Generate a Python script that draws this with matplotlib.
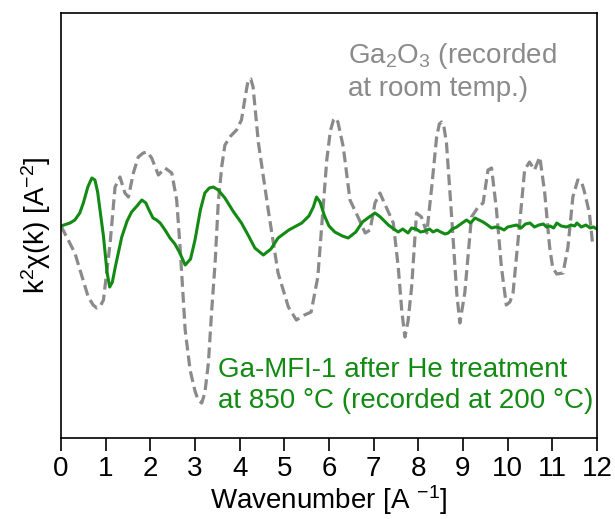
import matplotlib.pyplot as plt

plt.rcParams['font.family'] = 'Liberation Sans'
plt.rcParams['mathtext.fontset'] = 'custom'
plt.rcParams['mathtext.rm'] = 'Liberation Sans'
plt.rcParams['mathtext.it'] = 'Liberation Sans'

# Ga-MFI-1 after He treatment (green, solid)
k_mfi = [0, 0.2, 0.31, 0.42, 0.5, 0.6, 0.69, 0.76, 0.82, 0.95, 1.03, 1.09, 1.15, 1.22,
         1.36, 1.48, 1.58, 1.7, 1.81, 1.9, 1.97, 2.06, 2.14, 2.22, 2.33, 2.44, 2.55,
         2.65, 2.78, 2.9, 3.0, 3.12, 3.22, 3.32, 3.41, 3.52, 3.67, 3.85, 4.04, 4.2,
         4.34, 4.53, 4.7, 4.86, 5.1, 5.39, 5.55, 5.65, 5.72, 5.8, 5.9, 6.0, 6.13, 6.3,
         6.43, 6.6, 6.75, 6.9, 7.03, 7.15, 7.33, 7.45, 7.55, 7.65, 7.77,
         7.85, 7.95, 8.05, 8.15, 8.25, 8.33, 8.42, 8.5, 8.6, 8.67, 8.76, 8.86, 8.95,
         9.08, 9.17, 9.27, 9.36, 9.45, 9.55, 9.64, 9.73, 9.83, 9.92, 10.0, 10.1, 10.2,
         10.3, 10.4, 10.5, 10.6, 10.7, 10.8, 10.87, 10.95, 11.03, 11.1, 11.2, 11.32,
         11.42, 11.5, 11.55, 11.65, 11.75, 11.85, 11.92, 12.0]
chi_mfi = [0, 0.3, 0.6, 1.3, 2.3, 3.9, 4.8, 4.6, 3.4, -1.0, -4.6, -6.1, -5.6, -4.0,
           -1.1, 0.5, 1.4, 2.0, 2.6, 2.3, 1.6, 0.8, 0.6, 0.3, -0.4, -1.2, -1.8,
           -2.6, -3.9, -3.3, -1.4, 1.6, 3.3, 3.8, 3.9, 3.6, 2.8, 1.5, 0.3, -1.0,
           -2.2, -2.9, -2.3, -1.2, -0.4, 0.3, 1.0, 1.9, 2.9, 2.4, 1.0, 0.0, -0.6, -1.0,
           -1.2, -0.6, 0.4, 0.9, 1.3, 0.9, 0.1, -0.3, -0.6, -0.3, -0.7,
           -0.2, -0.3, -0.6, -0.5, -0.3, -0.6, -0.4, -0.6, -0.8, -0.7, -0.3, -0.1, 0.2,
           0.6, 0.3, 0.8, 0.6, 0.4, 0.1, -0.2, -0.1, -0.2, -0.4, -0.1, 0.0, 0.1,
           -0.2, 0.2, 0.3, -0.1, 0.1, 0.2, -0.1, 0.0, -0.2, 0.3, 0.0, -0.1,
           0.1, 0.0, 0.3, -0.1, 0.1, -0.2, -0.1, -0.3]

# Ga2O3 reference (gray, dashed)
k_ref = [0, 0.31, 0.61, 0.72, 0.8, 0.88, 0.95, 1.1, 1.21, 1.32, 1.43, 1.51, 1.62, 1.73,
         1.84, 1.93, 2.03, 2.18, 2.33, 2.48, 2.59, 2.67, 2.78, 2.89, 3.0, 3.07, 3.15,
         3.22, 3.3, 3.37, 3.45, 3.52, 3.6, 3.67, 3.8, 3.93, 4.04, 4.12, 4.19, 4.25,
         4.3, 4.42, 4.64, 4.86, 5.09, 5.27, 5.45, 5.6, 5.75, 5.82, 5.95, 6.03, 6.1,
         6.15, 6.2, 6.32, 6.47, 6.66, 6.81, 6.92, 7.03, 7.14, 7.29, 7.44, 7.55, 7.63,
         7.7, 7.77, 7.85, 7.96, 8.07, 8.19, 8.3, 8.41, 8.47, 8.52, 8.57, 8.63, 8.74,
         8.86, 8.93, 9.04, 9.19, 9.34, 9.45, 9.56, 9.64, 9.75, 9.86, 9.97, 10.05,
         10.12, 10.27, 10.38, 10.49, 10.6, 10.72, 10.83, 10.94, 11.01, 11.1, 11.24,
         11.35, 11.46, 11.57, 11.65, 11.72, 11.83, 11.9]
chi_ref = [0, -2.7, -7.1, -7.9, -8.2, -8.0, -7.4, -1.7, 3.9, 4.9, 3.3, 2.9, 5.3, 6.9,
           7.3, 7.4, 6.8, 5.1, 5.8, 5.3, 2.6, -2.4, -10.4, -14.4, -16.5, -17.4, -17.7,
           -16.7, -13.7, -8.7, -3.7, 2.3, 6.0, 8.1, 9.0, 9.6, 10.6, 12.8, 14.6, 14.7,
           13.9, 8.3, 1.6, -4.7, -8.1, -9.4, -8.9, -8.6, -5.1, -1.0, 6.6, 9.5, 10.6,
           10.8, 10.4, 7.9, 2.6, 0.8, -0.7, -0.4, 2.3, 3.3, 1.8, 0.3, -4.1, -8.5,
           -11.1, -9.5, -6.1, 1.3, 0.9, -0.7, 3.9, 8.9, 10.2, 10.4, 10.0, 8.3, 1.3,
           -6.7, -9.7, -6.7, 0.9, 1.9, 2.3, 5.6, 5.8, 1.6, -4.1, -7.9, -7.6,
           -6.7, 0.3, 5.6, 6.4, 5.6, 6.9, 3.3, -2.1, -4.2, -4.8, -4.7,
           -2.1, 2.9, 4.6, 4.5, 3.4, 1.3, -1.7]

fig = plt.figure(figsize=(6.15, 5.19), dpi=100)
ax = fig.add_axes([0.0992, 0.156, 0.8715, 0.819])

ax.plot(k_ref, chi_ref, color='#8a8a8a', lw=2.3, dashes=(3.4, 1.6))
ax.plot(k_mfi, chi_mfi, color='#138a13', lw=2.2)

ax.set_xlim(0, 12)
ax.set_ylim(-21.2, 21.3)
ax.set_xticks(range(0, 13))
ax.set_yticks([])
ax.tick_params(axis='x', direction='out', length=9, width=1.2, labelsize=20, pad=4)
for s in ax.spines.values():
    s.set_linewidth(1.2)

ax.set_xlabel('Wavenumber [A $^{-1}$]', fontsize=20, labelpad=1)
ax.set_ylabel('k$^{2}$\u03c7(k) [A$^{-2}$]', fontsize=20, labelpad=6)

ax.text(0.535, 0.935, 'Ga$_{2}$O$_{3}$ (recorded\nat room temp.)', transform=ax.transAxes,
        fontsize=20, color='#8a8a8a', va='top', ha='left', linespacing=1.25)
ax.text(0.292, 0.19, 'Ga-MFI-1 after He treatment\nat 850 \u00b0C (recorded at 200 \u00b0C)',
        transform=ax.transAxes, fontsize=20, color='#138a13', va='top', ha='left',
        linespacing=1.25)

fig.savefig('out.png', dpi=100)
